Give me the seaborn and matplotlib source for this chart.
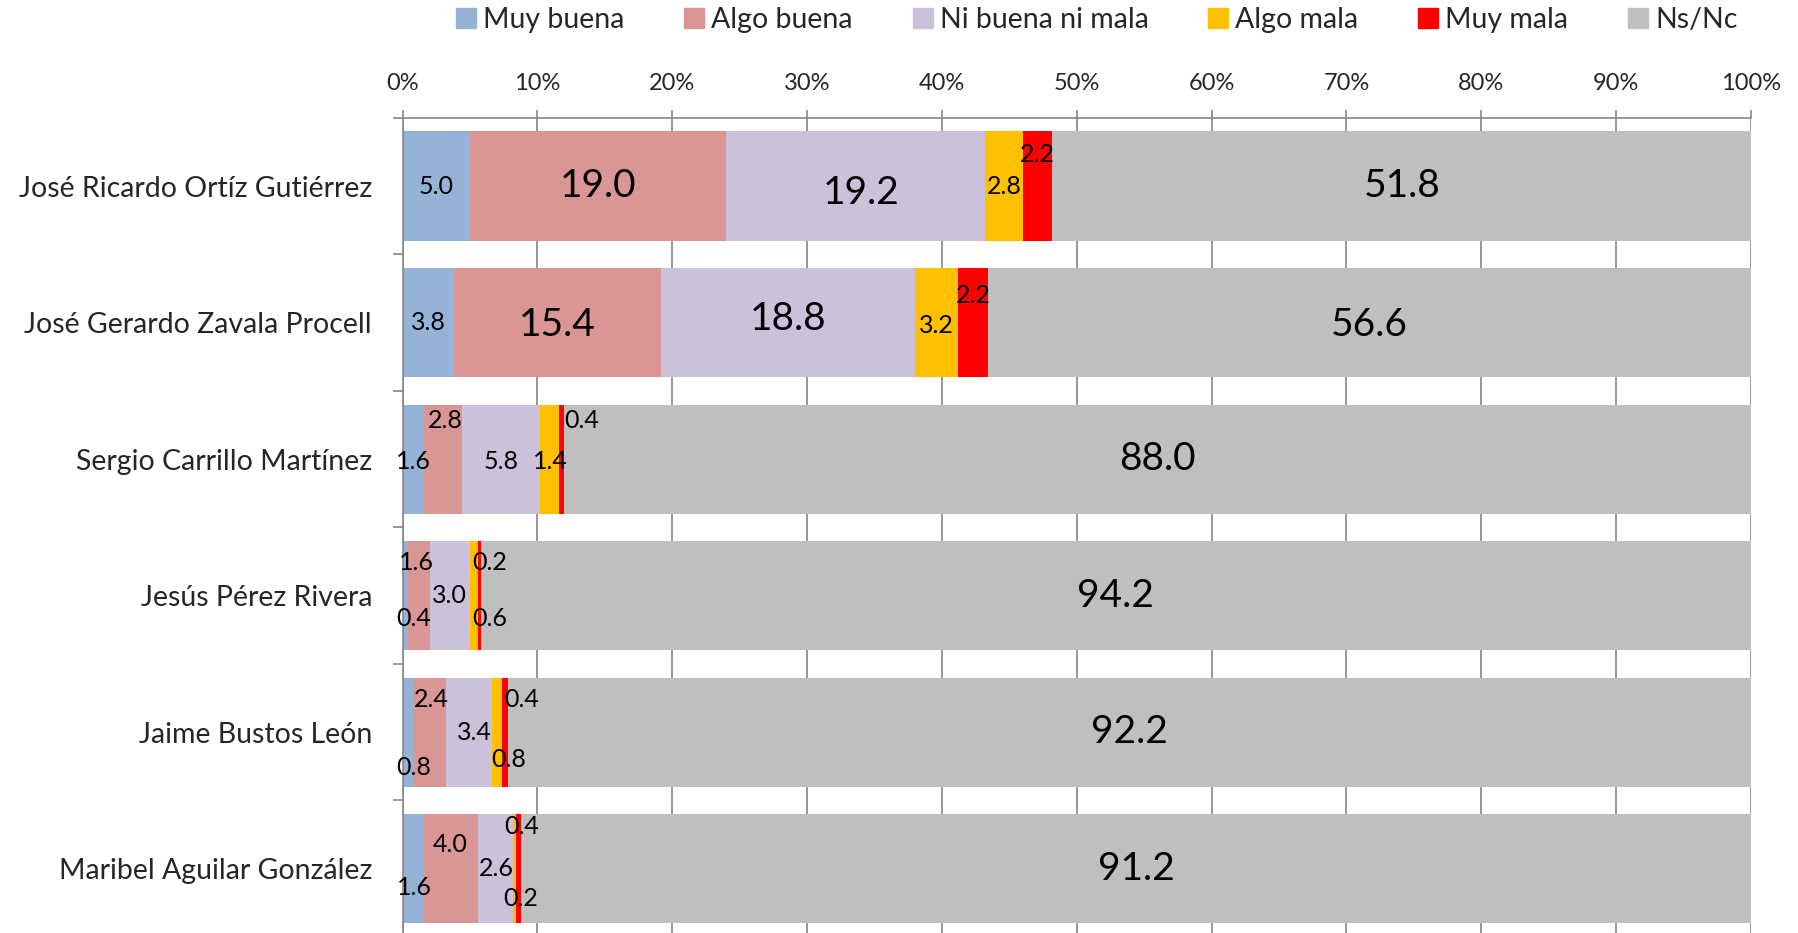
import seaborn as sns
import matplotlib.pyplot as plt
import matplotlib.patches as mpatches
import pandas as pd
import numpy as np

candidatos = ["José Ricardo Ortíz Gutiérrez", "José Gerardo Zavala Procell",
              "Sergio Carrillo Martínez", "Jesús Pérez Rivera",
              "Jaime Bustos León", "Maribel Aguilar González"]
categorias = ["Muy buena", "Algo buena", "Ni buena ni mala", "Algo mala", "Muy mala", "Ns/Nc"]

muy_buena = [5.0, 3.8, 1.6, 0.4, 0.8, 1.6]
algo_buena = [19.0, 15.4, 2.8, 1.6, 2.4, 4.0]
ni_buena = [19.2, 18.8, 5.8, 3.0, 3.4, 2.6]
algo_mala = [2.8, 3.2, 1.4, 0.6, 0.8, 0.2]
muy_mala = [2.2, 2.2, 0.4, 0.2, 0.4, 0.4]
ns_nc = [51.8, 56.6, 88.0, 94.2, 92.2, 91.2]

colores = ["#95B3D7", "#D99694", "#CCC1DA", "#FFC000", "#FF0000", "#BFBFBF"]

# label nudges (x in %, y in row units) so small labels don't collide
dx = [[0, 0, 0.4, 0, 0, 0],
      [0, 0, 0, 0, 0, 0],
      [0, 0.15, 0, 0.1, 1.5, 0],
      [0.6, -0.2, 0, 1.15, 0.75, 0],
      [0.45, 0.1, 0.45, 0.9, 1.25, 0],
      [0.05, -0.1, 0.05, 0.45, 0.25, 0]]
dy = [[0, 0, 0.05, 0, -0.235, 0],
      [0, 0.02, -0.03, 0.02, -0.2, 0.02],
      [0.02, -0.28, 0.02, 0.02, -0.28, 0],
      [0.17, -0.245, 0, 0.17, -0.245, 0],
      [0.26, -0.24, 0, 0.2, -0.24, 0],
      [0.14, -0.18, 0, 0.22, -0.31, 0]]

df = pd.DataFrame({"Muy buena": muy_buena, "Algo buena": algo_buena,
                   "Ni buena ni mala": ni_buena, "Algo mala": algo_mala,
                   "Muy mala": muy_mala, "Ns/Nc": ns_nc}, index=candidatos)
cum = df.cumsum(axis=1)

sns.set_style("white")
plt.rcParams['font.family'] = ['Lato', 'DejaVu Sans']

fig = plt.figure(figsize=(17.98, 9.33), dpi=100)
ax = fig.add_axes([0.2239, -0.0043, 0.7499, 0.878])

# stacked bars: draw cumulative totals from the longest down
for cat, col in reversed(list(zip(categorias, colores))):
    sns.barplot(x=cum[cat].values, y=candidatos, color=col, width=0.8,
                saturation=1, linewidth=0, ax=ax, zorder=2)

for i, cand in enumerate(candidatos):
    start = 0
    for j, cat in enumerate(categorias):
        v = df.loc[cand, cat]
        big = v >= 10
        ax.text(start + v / 2 + dx[i][j], i + dy[i][j], f"{v:.1f}",
                ha="center", va="center", fontsize=28 if big else 18,
                color="black", zorder=5)
        start += v

ax.set_xlim(0, 100)
ax.set_ylim(5.5, -0.5)
ax.set_xticks(np.arange(0, 101, 10))
ax.set_xticklabels([f"{t}%" for t in range(0, 101, 10)])
ax.xaxis.tick_top()
ax.tick_params(axis="x", which="major", direction="out", length=6, width=1.2,
               color="#868686", pad=11, labelsize=17)
ax.set_yticks(range(len(candidatos)))
ax.set_yticklabels(candidatos)
ax.set_yticks(np.arange(-0.5, 6, 1), minor=True)
ax.tick_params(axis="y", which="major", length=0, pad=22, labelsize=20.5)
ax.tick_params(axis="y", which="minor", direction="out", length=7, width=1.2,
               color="#868686", left=True)
ax.set_xlabel("")
ax.set_ylabel("")
ax.grid(axis="x", color="#868686", linewidth=1.2, zorder=0)
ax.set_axisbelow(True)
for s in ["right", "bottom"]:
    ax.spines[s].set_visible(False)
for s in ["left", "top"]:
    ax.spines[s].set_color("#868686")
    ax.spines[s].set_linewidth(1.2)

handles = [mpatches.Patch(color=c, label=l) for l, c in zip(categorias, colores)]
fig.legend(handles=handles, loc="center", bbox_to_anchor=(0.61, 0.979), ncol=6,
           frameon=False, fontsize=20.5, handlelength=0.7, handleheight=0.7,
           handletextpad=0.25, columnspacing=2.1)

fig.savefig("out.png", dpi=100)
